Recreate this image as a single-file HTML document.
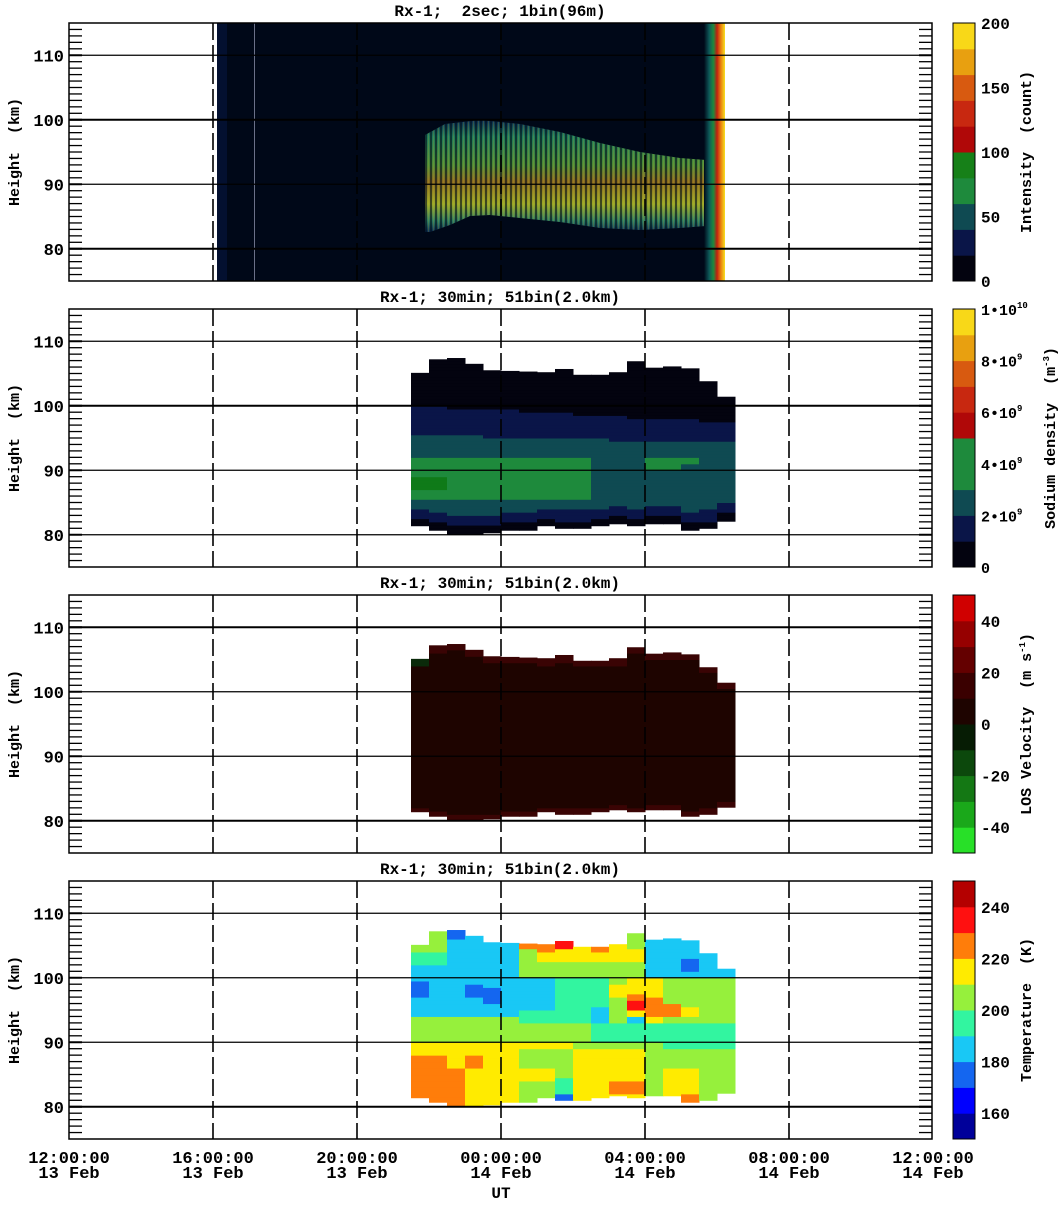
<!DOCTYPE html>
<html><head><meta charset="utf-8"><style>
html,body{margin:0;padding:0;background:#fff}
svg text{font-family:"Liberation Mono",monospace;font-weight:bold;fill:#000;white-space:pre}
</style></head><body>
<svg id="s" xmlns="http://www.w3.org/2000/svg" width="1062" height="1200" viewBox="0 0 1062 1200">
<defs>
<linearGradient id="bandg" x1="0" y1="0" x2="0" y2="1">
<stop offset="0" stop-color="#0a2a50"/><stop offset="0.15" stop-color="#1e7a5a"/>
<stop offset="0.4" stop-color="#4a8a38"/><stop offset="0.55" stop-color="#8a6a20"/>
<stop offset="0.75" stop-color="#9aa828"/><stop offset="0.9" stop-color="#2a7a60"/><stop offset="1" stop-color="#0a2a50"/>
</linearGradient>
<pattern id="stripes" width="5" height="10" patternUnits="userSpaceOnUse">
<rect x="0" y="0" width="2" height="10" fill="#000818" opacity="0.6"/>
<rect x="3" y="0" width="1" height="10" fill="#d0c030" opacity="0.2"/>
</pattern>
<linearGradient id="edge" x1="0" y1="0" x2="1" y2="0">
<stop offset="0" stop-color="#000818"/><stop offset="0.25" stop-color="#0e5a5a"/>
<stop offset="0.45" stop-color="#1e8a3c"/><stop offset="0.62" stop-color="#c02010"/>
<stop offset="0.8" stop-color="#e88010"/><stop offset="1" stop-color="#f8e020"/>
</linearGradient>
</defs>
<g id="g"></g>
</svg>
<script>
const g=document.getElementById('g');
const NS='http://www.w3.org/2000/svg';
function el(t,a,txt){const e=document.createElementNS(NS,t);for(const k in a)e.setAttribute(k,a[k]);if(txt!==undefined)e.textContent=txt;g.appendChild(e);return e;}
const X0=69,X1=932,W=X1-X0;
const tops=[23,309,595,881],H=258;
const tx=h=>X0+(h-12)*36;
function ky(top,km){return top+(115-km)*H/40;}
const titles=["Rx-1;\u00a0 2sec; 1bin(96m)","Rx-1; 30min; 51bin(2.0km)","Rx-1; 30min; 51bin(2.0km)","Rx-1; 30min; 51bin(2.0km)"];
const colTop=[105.1,107.2,107.4,106.5,105.5,105.4,105.3,105.2,105.7,104.8,104.8,105.2,106.9,105.9,106.1,105.8,103.8,101.4];
const colBot=[81.4,80.7,80.1,80.1,80.3,80.7,80.7,81.4,81,81,81.4,81.7,81.4,81.7,81.7,80.7,81,82.1];
const cx0=411,cw=18;

(function(){const t=tops[0];
el('rect',{x:217,y:t,width:500,height:H,fill:'#000818'});
el('rect',{x:217,y:t,width:10,height:H,fill:'#031030'});
el('line',{x1:254.5,y1:t,x2:254.5,y2:t+H,stroke:'#6a7088','stroke-width':1});
const pts="425,135 445,124 480,120 520,124 560,132 600,143 640,152 680,158 706,160 706,226 680,228 640,230 600,228 560,222 520,218 490,215 470,216 450,225 430,232 425,232";
el('polygon',{points:pts,fill:'url(#bandg)'});
el('polygon',{points:pts,fill:'url(#stripes)'});
el('rect',{x:704,y:t,width:21,height:H,fill:'url(#edge)'});
})();

function denC(c,h){
 const r=(c/17);
 const blackTop=100-r*2.5, navy=95.5-r*1.2;
 if(h>blackTop) return '#03030f';
 if(h>navy) return '#0a1548';
 if(h>93) return '#0f4a52';
 const bot=colBot[c];
 if(h<bot+1.2) return '#03030f';
 if(h<bot+2.8) return '#0a1548';
 if(h<85.5) return '#0f4a52';
 if(c<=1&&h>=87&&h<89) return '#0f7a18';
 if(c<=9 && h<92) return '#1e8a3c';
 if(c>=13&&c<=15&&h>=90&&h<92) return (c==15&&h<91)?'#0f4a52':'#1e8a3c';
 return '#0f4a52';
}
function tC(c,h){
 const C={db:'#00009a',b:'#0000ff',mb:'#1466f0',cy:'#19c8f5',aq:'#32f5a0',lg:'#96f03c',y:'#ffeb00',o:'#ff7d0a',r:'#ff1010',dr:'#b40000'};
 const bot=colBot[c],top=colTop[c];
 if(h<bot+1.1&&(c==8)) return C.mb;
 if(h<89){
  if(c<=1) return h<88?C.o:C.y;
  if(c==2) return h<86?C.o:C.y;
  if(c==3) return (h>=86&&h<88)?C.o:C.y;
  if(c<=5) return C.y;
  if(c<=7) return h<84||h>86?C.lg:C.y;
  if(c==8) return h<84.5?C.aq:C.lg;
  if(c<=10) return C.y;
  if(c<=12) return (h<84&&h>=82)?C.o:C.y;
  if(c==13) return C.lg;
  if(c==14) return h<86?C.y:C.lg;
  if(c==15) return h<82?C.o:(h<86?C.y:C.lg);
  return C.lg;
 }
 if(h<90) return c<=8?C.y:(c>=14?C.aq:C.lg);
 if(h<93) return c<=9?C.lg:C.aq;
 if(h<100){
  if(c<=5){ if((c==0&&h>=97&&h<99.5)||(c==3&&h>=97&&h<99)||(c==4&&h>=96&&h<98.5)) return C.mb; return h<94?C.lg:C.cy;}
  if(c<=9) return h<95?C.aq:(c<=7?C.cy:C.aq);
  if(c==10) return h<95.5?C.cy:C.aq;
  if(c==11) return (h>=97&&h<99)?C.y:C.lg;
  if(c==12) return (h>=95&&h<96.5)?C.r:(h>=96.5&&h<97.5?C.o:(h<94?C.cy:C.y));
  if(c==13) return (h>=94&&h<97)?C.o:C.y;
  if(c==14) return (h>=94&&h<96)?C.o:C.lg;
  if(c==15) return (h>=94&&h<95.5)?C.y:C.lg;
  return C.lg;
 }
 if(c<=1) return h>104?C.lg:(h>102?C.aq:C.cy);
 if(c<=5){ if(c==2&&h>top-1.2) return C.mb; return C.cy;}
 if(c<=12){ if(h>top-1){ if(c==6||c==7)return C.o; if(c==8) return C.r; if(c==10) return C.o;} if(c==12&&h>top-2.5) return C.lg; return (h>102.5&&c>=7)?C.y:C.lg;}
 if(c==15&&h>101&&h<103) return C.mb;
 return C.cy;
}
function drawGrid(p,fn){
 const t=tops[p];
 for(let c=0;c<18;c++){
  for(let h=75;h<115;h+=0.5){
   if(h+0.5<=colBot[c]||h>=colTop[c]) continue;
   const lo=Math.max(h,colBot[c]),hi=Math.min(h+0.5,colTop[c]);
   const col=fn(c,h+0.25);
   el('rect',{x:cx0+c*cw,y:ky(t,hi).toFixed(2),width:cw+0.5,height:((hi-lo)*H/40+0.5).toFixed(2),fill:col});
  }
 }
}
drawGrid(1,denC);
drawGrid(2,(c,h)=>h>colTop[c]-1?(c==0?'#0a2a0a':'#3a0404'):(h<colBot[c]+0.8?'#3a0404':'#1e0400'));
drawGrid(3,tC);

for(let p=0;p<4;p++){
 const t=tops[p];
 el('text',{x:500,y:t-7,'text-anchor':'middle','font-size':16},titles[p]);
 [110,100,90,80].forEach(k=>{const y=ky(t,k);el('line',{x1:X0,y1:y,x2:X1,y2:y,stroke:'#000','stroke-width':(k==100&&p<2)||(k==80&&p!=1)||(k==110&&p==2)?2:1.2});});
 [16,20,24,28,32].forEach(h=>{const x=tx(h);el('line',{x1:x,y1:t,x2:x,y2:t+H,stroke:'#000','stroke-width':1.6,'stroke-dasharray':'17,5'});});
 for(let k=76;k<115;k++){const y=ky(t,k);el('line',{x1:X0,y1:y,x2:X0+13,y2:y,stroke:'#000','stroke-width':k%10==0?2:1.3});el('line',{x1:X1-13,y1:y,x2:X1,y2:y,stroke:'#000','stroke-width':k%10==0?2:1.3});}
 el('rect',{x:X0,y:t,width:W,height:H,fill:'none',stroke:'#000','stroke-width':1.5});
 [110,100,90,80].forEach(k=>el('text',{x:64,y:ky(t,k)+6,'text-anchor':'end','font-size':17},String(k)));
 el('text',{x:0,y:0,'font-size':15,'text-anchor':'middle',transform:`translate(19,${t+H/2}) rotate(-90)`},'Height\u00a0 (km)');
}
const xl=[["12:00:00","13 Feb"],["16:00:00","13 Feb"],["20:00:00","13 Feb"],["00:00:00","14 Feb"],["04:00:00","14 Feb"],["08:00:00","14 Feb"],["12:00:00","14 Feb"]];
xl.forEach((l,i)=>{const x=X0+i*144;el('text',{x:x,y:1163,'text-anchor':'middle','font-size':17},l[0]);el('text',{x:x,y:1178,'text-anchor':'middle','font-size':17},l[1]);});
el('text',{x:501,y:1198,'text-anchor':'middle','font-size':16},'UT');

const CBX=953,CBW=22;
function cbar(p,cols,labels,title,tx,fs){
 const t=tops[p],n=cols.length,hh=H/n;
 cols.forEach((c,i)=>el('rect',{x:CBX,y:(t+H-(i+1)*hh).toFixed(2),width:CBW,height:(hh+0.5).toFixed(2),fill:c}));
 el('rect',{x:CBX,y:t,width:CBW,height:H,fill:'none',stroke:'#000','stroke-width':1});
 labels.forEach(l=>{const y=t+H-l[0]*H;const e=el('text',{x:981,y:y+6,'font-size':fs||16},'');e.innerHTML=l[1];});
 el('text',{x:0,y:0,'font-size':15,'text-anchor':'middle',transform:`translate(${tx},${t+H/2}) rotate(-90)`},'').innerHTML=title;
}
cbar(0,['#03030f','#0a1548','#0f4a52','#1e8a3c','#168018','#b00808','#c82810','#d85a10','#e8a010','#f8d818'],
 [[0,'0'],[0.25,'50'],[0.5,'100'],[0.75,'150'],[1,'200']],'Intensity\u00a0 (count)',1031);
cbar(1,['#03030f','#0a1548','#0f4a52','#1e8a3c','#1e8a3c','#b00808','#c82810','#d85a10','#e8a010','#f8d818'],
 [[0,'0'],[0.2,'2•10<tspan dy="-7" font-size="9">9</tspan>'],[0.4,'4•10<tspan dy="-7" font-size="9">9</tspan>'],[0.6,'6•10<tspan dy="-7" font-size="9">9</tspan>'],[0.8,'8•10<tspan dy="-7" font-size="9">9</tspan>'],[1,'1•10<tspan dy="-7" font-size="9">10</tspan>']],
 'Sodium density\u00a0 (m<tspan dy="-6" font-size="9">-3</tspan><tspan dy="6">)</tspan>',1055,15);
cbar(2,['#28e028','#1aa81a','#147814','#0c480c','#061c04','#1e0400','#3a0000','#640000','#960000','#d00000'],
 [[0.1,'-40'],[0.3,'-20'],[0.5,'0'],[0.7,'20'],[0.9,'40']],'LOS Velocity\u00a0 (m s<tspan dy="-6" font-size="9">-1</tspan><tspan dy="6">)</tspan>',1031);
cbar(3,['#00009a','#0000ff','#1466f0','#19c8f5','#32f5a0','#96f03c','#ffeb00','#ff7d0a','#ff1010','#b40000'],
 [[0.1,'160'],[0.3,'180'],[0.5,'200'],[0.7,'220'],[0.9,'240']],'Temperature\u00a0 (K)',1031);
</script>
</body></html>
